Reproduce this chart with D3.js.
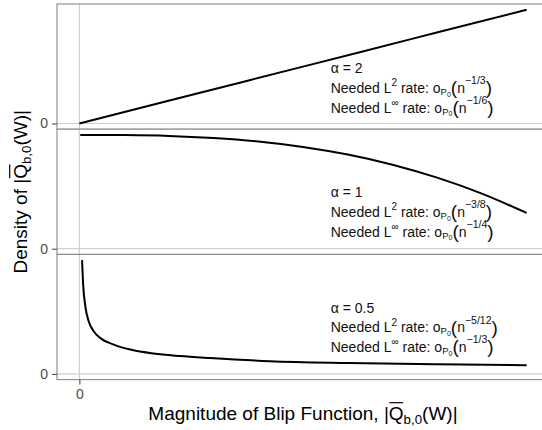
<!DOCTYPE html>
<html><head><meta charset="utf-8">
<script src="https://cdn.jsdelivr.net/npm/d3@7"></script>
<style>
html,body{margin:0;padding:0;background:#fff;}
text{font-family:"Liberation Sans",Arial,Helvetica,sans-serif;}
</style>
</head><body>
<svg id="chart" width="542" height="430"></svg>
<script>
// ---- data (densities in arbitrary units) ----
const alphaLabels = ["α = 2", "α = 1", "α = 0.5"];
const l2Rates = ["−1/3", "−3/8", "−5/12"];
const linfRates = ["−1/6", "−1/4", "−1/3"];

const a2X = [0, 0.25, 0.5, 0.75, 1];
const a2Y = [0, 28.5, 57, 85.5, 114];

const a1X = [0.002, 0.1, 0.2, 0.3, 0.4, 0.5, 0.6, 0.7, 0.8, 0.9, 1.0];
const a1Y = [114.7, 114.5, 113.7, 111.6, 108.1, 102.6, 94.9, 84.7, 71.6, 55.5, 36];

const a05X = [0.006, 0.0083, 0.0134, 0.0208, 0.032, 0.047, 0.077, 0.114, 0.166, 0.225, 0.292, 0.426, 0.6, 0.8, 1.0];
const a05Y = [114.5, 91, 68, 53, 43, 36, 29.5, 24.5, 20.5, 18, 16, 12.8, 11, 9.8, 8.8];

const xTicks = [0];
const yTicks = [0];
const xTickLabels = ["0"];
const yTickLabels = ["0"];

// ---- layout ----
const svg = d3.select("#chart");
const left = 57, right = 549;
const panelTops = [4, 129.2, 254.4];
const panelH = 125.2;
const x = d3.scaleLinear().domain([-0.05, 1.05]).range([left, right]);

const series = [
  {xs: a2X, ys: a2Y},
  {xs: a1X, ys: a1Y},
  {xs: a05X, ys: a05Y}
];
const annTopOffset = [69.3, 68.1, 58.3];
const lineGap = 19.6;
const annX = 0.562;

const gridCol = "#d0d0d0", borderCol = "#8a8a8a", tickCol = "#4d4d4d";

const styles = {
  n: {size: 14, shift: 0},
  sup2: {size: 10, shift: -6.5},
  supn: {size: 10.5, shift: -8.8},
  sub: {size: 9.5, shift: 2},
  subsub: {size: 7, shift: 3.6},
  paren: {size: 19, shift: 1.2}
};
function addRich(t, parts, st) {
  let cur = 0;
  parts.forEach(([s, k]) => {
    const p = st[k];
    const dy = p.shift - cur; cur = p.shift;
    t.append("tspan").attr("dy", dy).style("font-size", p.size + "px").text(s);
  });
}

const line = d3.line().curve(d3.curveMonotoneX);

series.forEach((s, i) => {
  const top = panelTops[i];
  const ymax = d3.max(s.ys);
  const y = d3.scaleLinear().domain([-0.05 * ymax, 1.05 * ymax]).range([top + panelH, top]);
  const g = svg.append("g");
  g.append("rect").attr("x", left).attr("y", top).attr("width", right - left).attr("height", panelH).attr("fill", "#fff");
  // gridlines
  yTicks.forEach(v => {
    g.append("line").attr("x1", left).attr("x2", right).attr("y1", y(v)).attr("y2", y(v))
      .attr("stroke", gridCol).attr("stroke-width", 1.2);
  });
  xTicks.forEach(v => {
    g.append("line").attr("x1", x(v)).attr("x2", x(v)).attr("y1", top).attr("y2", top + panelH)
      .attr("stroke", gridCol).attr("stroke-width", 1.2);
  });
  // curve
  g.append("path").datum(s.xs.map((v, j) => [x(v), y(s.ys[j])]))
    .attr("d", line).attr("fill", "none").attr("stroke", "#000").attr("stroke-width", 2);
  // annotation
  const ax = x(annX);
  const b0 = top + annTopOffset[i];
  g.append("text").attr("x", ax).attr("y", b0).style("font-size", "14px").attr("fill", "#111").text(alphaLabels[i]);
  const t2 = g.append("text").attr("x", ax).attr("y", b0 + lineGap).attr("fill", "#111");
  addRich(t2, [["Needed L", "n"], ["2", "sup2"], [" rate: o", "n"], ["P", "sub"], ["0", "subsub"],
               ["(", "paren"], ["n", "n"], [l2Rates[i], "supn"], [")", "paren"]], styles);
  const t3 = g.append("text").attr("x", ax).attr("y", b0 + 2 * lineGap).attr("fill", "#111");
  addRich(t3, [["Needed L", "n"], ["∞", "sup2"], [" rate: o", "n"], ["P", "sub"], ["0", "subsub"],
               ["(", "paren"], ["n", "n"], [linfRates[i], "supn"], [")", "paren"]], styles);
  // border
  g.append("rect").attr("x", left).attr("y", top).attr("width", right - left).attr("height", panelH)
    .attr("fill", "none").attr("stroke", borderCol).attr("stroke-width", 1.1);
  // y axis
  const yAxis = d3.axisLeft(y).tickValues(yTicks).tickFormat((d, k) => yTickLabels[k]).tickSize(5).tickPadding(4);
  const ga = svg.append("g").attr("transform", `translate(${left},0)`).call(yAxis);
  ga.select(".domain").remove();
  ga.selectAll(".tick line").attr("stroke", tickCol).attr("stroke-width", 1.1);
  ga.selectAll(".tick text").style("font-size", "14px").attr("fill", tickCol)
    .style("font-family", "'Liberation Sans',Arial,sans-serif");
});

// x axis
const bottom = panelTops[2] + panelH;
const xAxis = d3.axisBottom(x).tickValues(xTicks).tickFormat((d, k) => xTickLabels[k]).tickSize(5).tickPadding(4);
const gx = svg.append("g").attr("transform", `translate(0,${bottom})`).call(xAxis);
gx.select(".domain").remove();
gx.selectAll(".tick line").attr("stroke", tickCol).attr("stroke-width", 1.1);
gx.selectAll(".tick text").style("font-size", "14px").attr("fill", tickCol)
  .style("font-family", "'Liberation Sans',Arial,sans-serif");

// axis titles
const tStyles = {
  n: {size: 19, shift: 0},
  sub: {size: 13.3, shift: 4}
};
function title(g, parts, qIndexText) {
  const t = g.append("text").attr("x", 0).attr("y", 0).attr("text-anchor", "middle").attr("fill", "#000");
  addRich(t, parts, tStyles);
  const node = t.node();
  const idx = qIndexText.length;
  const e = node.getExtentOfChar(idx);
  g.append("line").attr("x1", e.x + 0.5).attr("x2", e.x + e.width - 0.5)
    .attr("y1", e.y - 0.3).attr("y2", e.y - 0.3).attr("stroke", "#000").attr("stroke-width", 1.2);
}
const xt = svg.append("g").attr("transform", `translate(${(left + right) / 2},420)`);
title(xt, [["Magnitude of Blip Function, |Q", "n"], ["b,0", "sub"], ["(W)|", "n"]], "Magnitude of Blip Function, |");
const yt = svg.append("g").attr("transform", `translate(27,${(panelTops[0] + bottom) / 2}) rotate(-90)`);
title(yt, [["Density of |Q", "n"], ["b,0", "sub"], ["(W)|", "n"]], "Density of |");
</script>
</body></html>
